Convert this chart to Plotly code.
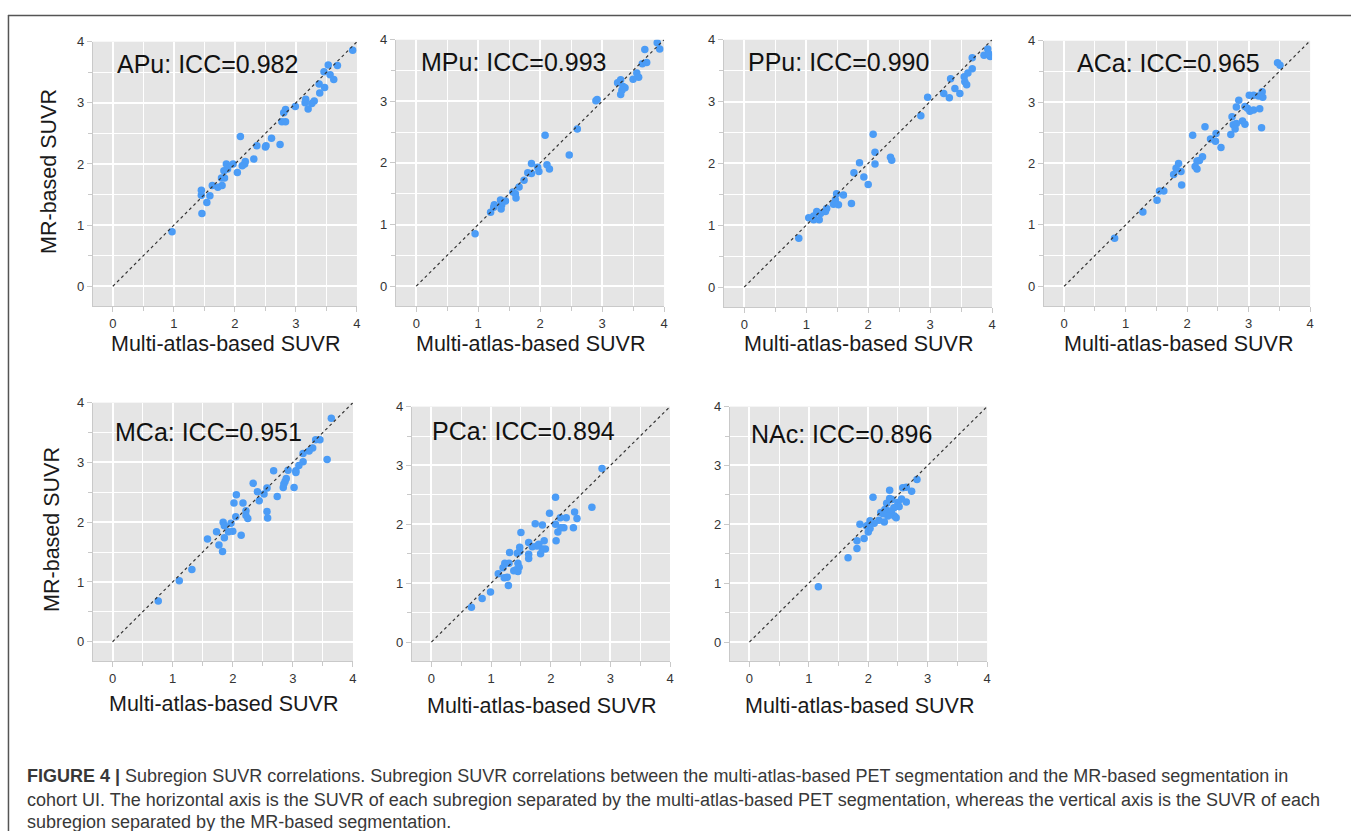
import plotly.graph_objects as go

W, H = 1355, 831

# ---------------- data ----------------
regions = ["APu", "MPu", "PPu", "ACa", "MCa", "PCa", "NAc"]
icc = ["0.982", "0.993", "0.990", "0.965", "0.951", "0.894", "0.896"]

apu_x = [3.93, 3.53, 3.68, 3.46, 3.56, 3.62, 3.38, 3.47, 3.39, 3.16, 3.15, 3.30, 3.26, 3.20, 2.99,
         2.83, 2.80, 2.77, 2.83, 2.74, 2.60, 2.51, 2.50, 2.36, 2.31, 2.09, 2.17, 2.16, 2.12, 2.04,
         1.97, 1.86, 1.88, 1.82, 1.83, 1.78, 1.79, 1.72, 1.63, 1.59, 1.54, 1.45, 1.45, 1.46, 0.97]
apu_y = [3.86, 3.62, 3.61, 3.51, 3.46, 3.38, 3.31, 3.25, 3.16, 3.06, 3.00, 3.03, 2.99, 2.90, 2.94,
         2.89, 2.84, 2.69, 2.69, 2.32, 2.42, 2.30, 2.28, 2.30, 2.08, 2.45, 2.04, 2.00, 1.97, 1.86,
         2.00, 2.00, 1.92, 1.89, 1.77, 1.77, 1.65, 1.62, 1.65, 1.48, 1.37, 1.57, 1.49, 1.19, 0.89]

mpu_x = [3.89, 3.93, 3.69, 3.65, 3.72, 3.56, 3.59, 3.50, 3.25, 3.30, 3.34, 3.37, 3.32, 3.30, 2.92,
         2.90, 2.60, 2.47, 2.08, 2.11, 2.15, 1.98, 1.96, 1.86, 1.86, 1.80, 1.74, 1.66, 1.60, 1.56,
         1.61, 1.44, 1.36, 1.38, 1.37, 1.26, 1.25, 1.20, 0.95]
mpu_y = [3.95, 3.85, 3.84, 3.61, 3.63, 3.46, 3.39, 3.36, 3.30, 3.35, 3.24, 3.22, 3.18, 3.11, 3.03,
         3.01, 2.55, 2.13, 2.45, 1.97, 1.90, 1.86, 1.93, 1.99, 1.83, 1.84, 1.72, 1.61, 1.50, 1.53,
         1.43, 1.38, 1.40, 1.32, 1.25, 1.32, 1.28, 1.20, 0.85]

ppu_x = [3.93, 3.97, 3.87, 3.95, 3.68, 3.68, 3.61, 3.55, 3.56, 3.59, 3.33, 3.40, 3.48, 3.22, 3.31,
         2.96, 2.85, 2.08, 2.11, 2.36, 2.38, 2.11, 1.86, 1.77, 1.93, 2.00, 1.73, 1.60, 1.49, 1.47,
         1.44, 1.52, 1.33, 1.31, 1.23, 1.17, 1.12, 1.04, 1.12, 1.21, 0.88]
ppu_y = [3.85, 3.73, 3.75, 3.77, 3.71, 3.53, 3.46, 3.40, 3.32, 3.27, 3.37, 3.21, 3.13, 3.13, 3.06,
         3.07, 2.77, 2.47, 2.18, 2.10, 2.05, 1.99, 2.01, 1.85, 1.78, 1.66, 1.35, 1.49, 1.51, 1.41,
         1.34, 1.33, 1.27, 1.22, 1.19, 1.22, 1.15, 1.12, 1.09, 1.09, 0.79]

aca_x = [3.47, 3.51, 3.22, 3.23, 3.16, 3.08, 3.01, 2.84, 2.80, 2.98, 3.02, 3.08, 3.18, 2.94, 2.73,
         2.90, 2.94, 2.80, 2.75, 2.78, 2.71, 3.21, 2.29, 2.09, 2.47, 2.46, 2.38, 2.55, 2.25, 2.20,
         2.16, 2.13, 2.16, 1.86, 1.82, 1.90, 1.78, 1.91, 1.62, 1.55, 1.51, 1.28, 0.82]
aca_y = [3.64, 3.60, 3.17, 3.08, 3.10, 3.11, 3.11, 3.03, 2.92, 2.90, 2.85, 2.87, 2.89, 2.93, 2.76,
         2.69, 2.64, 2.65, 2.63, 2.56, 2.47, 2.58, 2.60, 2.46, 2.49, 2.36, 2.40, 2.26, 2.11, 2.05,
         2.04, 1.95, 1.91, 2.00, 1.92, 1.87, 1.82, 1.65, 1.55, 1.55, 1.40, 1.21, 0.78]

mca_x = [3.64, 3.57, 3.45, 3.38, 3.33, 3.27, 3.17, 3.17, 3.10, 3.05, 3.05, 3.02, 2.92, 2.89, 2.87,
         2.85, 2.84, 2.68, 2.74, 2.57, 2.52, 2.44, 2.41, 2.34, 2.57, 2.58, 2.25, 2.22, 2.22, 2.17,
         2.06, 2.02, 2.05, 2.14, 1.97, 1.93, 2.00, 1.84, 1.86, 1.86, 1.73, 1.77, 1.83, 1.58, 1.32,
         1.11, 0.76]
mca_y = [3.74, 3.05, 3.38, 3.38, 3.24, 3.19, 3.15, 3.01, 2.95, 2.86, 2.83, 2.58, 2.87, 2.73, 2.68,
         2.64, 2.58, 2.86, 2.43, 2.57, 2.47, 2.36, 2.51, 2.65, 2.18, 2.07, 2.06, 2.19, 2.11, 2.32,
         2.46, 2.32, 2.09, 1.78, 1.98, 1.84, 1.85, 2.00, 1.94, 1.74, 1.84, 1.62, 1.51, 1.72, 1.21,
         1.02, 0.68]

pca_x = [2.86, 2.69, 2.08, 1.98, 2.40, 2.44, 2.26, 2.16, 2.22, 2.17, 2.38, 2.08, 2.12, 2.09, 1.74,
         1.86, 1.50, 1.89, 1.91, 1.86, 1.83, 1.80, 1.77, 1.69, 1.63, 1.63, 1.63, 1.48, 1.48, 1.44,
         1.31, 1.45, 1.47, 1.45, 1.42, 1.38, 1.30, 1.23, 1.20, 1.27, 1.22, 1.29, 1.12, 0.99, 0.85,
         0.67]
pca_y = [2.95, 2.29, 2.46, 2.19, 2.21, 2.10, 2.11, 2.11, 1.94, 1.94, 1.94, 2.00, 1.87, 1.72, 2.01,
         1.99, 1.86, 1.72, 1.58, 1.58, 1.50, 1.66, 1.63, 1.62, 1.69, 1.49, 1.42, 1.61, 1.54, 1.51,
         1.52, 1.34, 1.27, 1.20, 1.23, 1.21, 1.34, 1.34, 1.26, 1.10, 1.09, 0.96, 1.16, 0.85, 0.74,
         0.59]

nac_x = [2.82, 2.73, 2.64, 2.58, 2.64, 2.56, 2.50, 2.49, 2.36, 2.08, 2.31, 2.40, 2.43, 2.33, 2.28,
         2.21, 2.39, 2.33, 2.44, 2.47, 2.27, 2.18, 2.10, 2.03, 2.00, 1.97, 2.03, 2.00, 1.86, 1.93,
         1.81, 1.81, 1.66, 1.16, 2.36, 2.25, 2.52]
nac_y = [2.76, 2.56, 2.63, 2.62, 2.38, 2.43, 2.37, 2.31, 2.58, 2.46, 2.36, 2.42, 2.28, 2.23, 2.25,
         2.20, 2.20, 2.14, 2.14, 2.11, 2.04, 2.07, 2.02, 2.06, 1.99, 1.97, 1.93, 1.87, 2.00, 1.76,
         1.72, 1.59, 1.43, 0.94, 2.44, 2.18, 2.30]

xs = [apu_x, mpu_x, ppu_x, aca_x, mca_x, pca_x, nac_x]
ys = [apu_y, mpu_y, ppu_y, aca_y, mca_y, pca_y, nac_y]

tick_vals = [0, 1, 2, 3, 4]
tick_text = ["0", "1", "2", "3", "4"]
x_title = "Multi-atlas-based SUVR"
y_title = "MR-based SUVR"
caption_lines = [
    "<b>FIGURE 4 |</b> Subregion SUVR correlations. Subregion SUVR correlations between the multi-atlas-based PET segmentation and the MR-based segmentation in",
    "cohort UI. The horizontal axis is the SUVR of each subregion separated by the multi-atlas-based PET segmentation, whereas the vertical axis is the SUVR of each",
    "subregion separated by the MR-based segmentation.",
]

# ---------------- layout (pixel boxes) ----------------
boxes = [  # left, right, top, bottom  (pixels)
    (93, 358, 35, 302),
    (397, 666, 33, 302),
    (726, 995, 33, 303),
    (1047, 1314, 34, 302),
    (93, 354, 399, 660),
    (413, 672, 403, 660),
    (732, 990, 403, 660),
]
label_pos = [(0.03, 3.64), (0.05, 3.64), (0.03, 3.64), (0.17, 3.64), (0.0, 3.51), (-0.03, 3.58), (0.0, 3.54)]
xtitle_y = [340, 340, 340, 340, 703, 705, 705]
caption_y = [776, 800, 822]

FONT = "Liberation Sans, Arial, sans-serif"


def px(x):
    return x / W


def py(y):
    return 1 - y / H


fig = go.Figure()
annotations = []
AX_RANGE = [-0.33, 4.0]
GRID = "#c9c9c9"

for i in range(7):
    n = "" if i == 0 else str(i + 1)
    xa, ya = "x" + n, "y" + n
    l, r, t, b = boxes[i]
    fig.add_trace(go.Scatter(
        x=xs[i], y=ys[i], mode="markers", xaxis=xa, yaxis=ya,
        marker=dict(color="#4b9cf6", size=7.5, line=dict(width=0)), showlegend=False))
    fig.add_trace(go.Scatter(
        x=[0, 4], y=[0, 4], mode="lines", xaxis=xa, yaxis=ya,
        line=dict(color="#333333", width=1.2, dash="dot"), showlegend=False))
    common = dict(
        range=AX_RANGE, tickvals=tick_vals, ticktext=tick_text,
        showgrid=True, gridcolor="white", gridwidth=2, zeroline=False,
        showline=True, linecolor=GRID, linewidth=1,
        ticks="outside", ticklen=5, tickcolor=GRID, tickwidth=1,
        tickfont=dict(family=FONT, size=13, color="#333333"),
        minor=dict(dtick=0.5, tick0=0, showgrid=True, gridcolor="white", gridwidth=1,
                   ticks="outside", ticklen=4, tickcolor=GRID),
        fixedrange=True,
    )
    fig.update_layout(**{
        ("xaxis" + n): dict(domain=[px(l), px(r)], anchor=ya, **common),
        ("yaxis" + n): dict(domain=[py(b), py(t)], anchor=xa, **common),
    })
    lx, ly = label_pos[i]
    annotations.append(dict(
        x=lx, y=ly, xref=xa, yref=ya, xanchor="left", yanchor="middle", showarrow=False,
        text=f"{regions[i]}: ICC={icc[i]}",
        font=dict(family=FONT, size=25, color="#111111")))
    annotations.append(dict(
        x=px((l + r) / 2 + 1), y=py(xtitle_y[i]), xref="paper", yref="paper",
        xanchor="center", yanchor="middle", showarrow=False, text=x_title,
        font=dict(family=FONT, size=21.5, color="#1a1a1a")))
    if i in (0, 4):
        annotations.append(dict(
            x=px(49 if i == 0 else 52), y=py((t + b) / 2 - 3), xref="paper", yref="paper",
            xanchor="center", yanchor="middle", showarrow=False, text=y_title, textangle=-90,
            font=dict(family=FONT, size=21.5, color="#1a1a1a")))

for line, yy in zip(caption_lines, caption_y):
    annotations.append(dict(
        x=px(25), y=py(yy), xref="paper", yref="paper", xanchor="left", yanchor="middle",
        showarrow=False, text=line,
        font=dict(family=FONT, size=18, color="#383838")))

shapes = [
    dict(type="line", xref="paper", yref="paper", x0=px(8), x1=1.0, y0=py(8.5), y1=py(8.5),
         line=dict(color="#555555", width=1.5)),
    dict(type="line", xref="paper", yref="paper", x0=px(8.5), x1=px(8.5), y0=py(8), y1=0.0,
         line=dict(color="#555555", width=1.5)),
]

fig.update_layout(
    width=W, height=H, margin=dict(l=0, r=0, t=0, b=0),
    paper_bgcolor="white", plot_bgcolor="#e5e5e5",
    annotations=annotations, shapes=shapes, showlegend=False,
)

fig.write_html(
    "out.html",
    config={"displayModeBar": False},
    post_script="document.body.style.margin='0';document.body.style.overflow='hidden';",
)
